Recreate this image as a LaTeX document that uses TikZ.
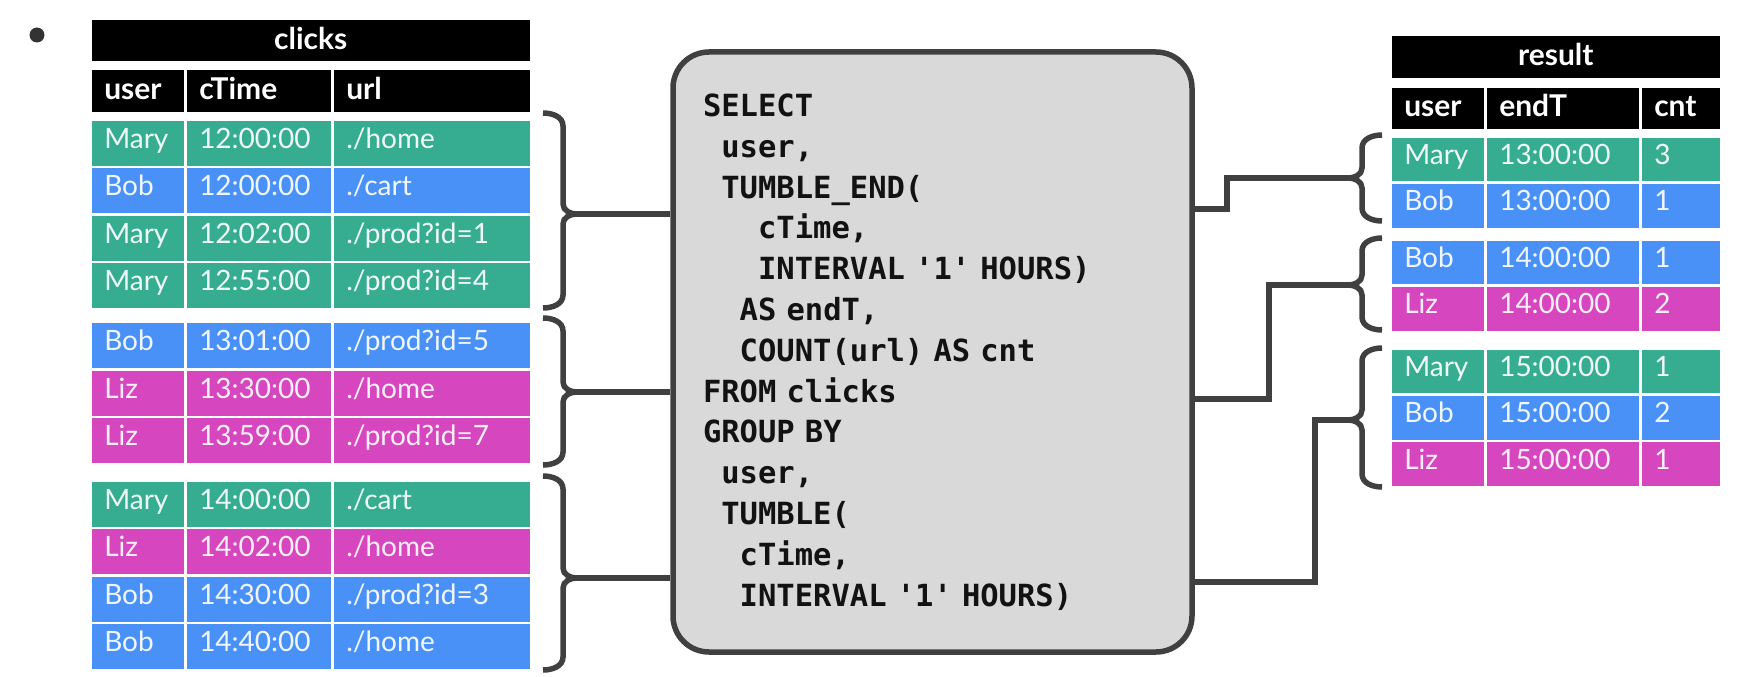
\documentclass[tikz,border=0pt]{standalone}
\usepackage{fontspec}
\setmainfont{Lato}
\setmonofont{DejaVu Sans Mono}
\definecolor{maryGreen}{HTML}{36AD91}
\definecolor{bobBlue}{HTML}{4A91F7}
\definecolor{lizPink}{HTML}{D647BF}
\definecolor{lineGray}{HTML}{404040}
\definecolor{boxGray}{HTML}{D9D9D9}
\usetikzlibrary{calc}

% brace opening to the right: x of the stem, top, tip, bottom
\newcommand{\grpbraceR}[4]{%
  \draw[brc] (#1-20,#2) to[out=0,in=90] (#1,#2+13) -- (#1,#3-10)
    to[out=-90,in=180] (#1+14,#3) to[out=180,in=90] (#1,#3+10)
    -- (#1,#4-13) to[out=-90,in=0] (#1-20,#4);}
% brace opening to the left
\newcommand{\grpbraceL}[4]{%
  \draw[brc] (#1+20,#2) to[out=180,in=90] (#1,#2+13) -- (#1,#3-10)
    to[out=-90,in=0] (#1-14,#3) to[out=0,in=90] (#1,#3+10)
    -- (#1,#4-13) to[out=-90,in=180] (#1+20,#4);}

\begin{document}
\begin{tikzpicture}[
    x=1pt, y=-1pt,
    cell/.style={anchor=north west, draw=white, line width=2.5pt, inner xsep=14pt, inner ysep=0pt, align=left, text=white, text opacity=0.92, text height=18pt, text depth=8pt, font=\fontsize{28}{32}\selectfont},
    head/.style={cell, fill=black, text opacity=1, minimum height=43.5pt, text height=21pt, text depth=4pt, font=\bfseries\fontsize{30}{34}\selectfont},
    colA/.style={minimum width=95pt, text width=67pt},
    colB/.style={minimum width=147pt, text width=119pt},
    colC/.style={minimum width=199pt, text width=171pt},
    colE/.style={minimum width=155pt, text width=127pt},
    colN/.style={minimum width=81pt, text width=53pt},
    lrow/.style={minimum height=47.5pt},
    rrow/.style={minimum height=46.3pt},
    brc/.style={draw=lineGray, line width=5.5pt},
    link/.style={draw=lineGray, line width=5.5pt}
  ]
  \useasboundingbox (0,0) rectangle (1737,677);

  \node[circle, fill=black!80, minimum size=15pt, inner sep=0pt] (dot) at (37,35) {};

  % clicks table
  \node[head, minimum width=441pt, text width=413pt, align=center] (clicks) at (89,18) {clicks};
  \node[head, colA] (lh-a) at (89,68) {user};
  \node[head, colB] (lh-b) at (184,68) {cTime};
  \node[head, colC] (lh-c) at (331,68) {url};
  \foreach \i/\yy/\col/\nm/\tm/\pg in {
      1/118/maryGreen/Mary/12:00:00/{./home},
      2/165.5/bobBlue/Bob/12:00:00/{./cart},
      3/213/maryGreen/Mary/12:02:00/{./prod?id=1},
      4/260.5/maryGreen/Mary/12:55:00/{./prod?id=4},
      5/320.5/bobBlue/Bob/13:01:00/{./prod?id=5},
      6/368/lizPink/Liz/13:30:00/{./home},
      7/415.5/lizPink/Liz/13:59:00/{./prod?id=7},
      8/479/maryGreen/Mary/14:00:00/{./cart},
      9/526.5/lizPink/Liz/14:02:00/{./home},
      10/574/bobBlue/Bob/14:30:00/{./prod?id=3},
      11/621.5/bobBlue/Bob/14:40:00/{./home}} {
    \node[cell, lrow, colA, fill=\col] (l\i-a) at (89,\yy) {\nm};
    \node[cell, lrow, colB, fill=\col] (l\i-b) at (184,\yy) {\tm};
    \node[cell, lrow, colC, fill=\col] (l\i-c) at (331,\yy) {\pg};
  }

  % result table
  \node[head, minimum width=331pt, text width=303pt, align=center] (result) at (1389,34) {result};
  \node[head, colA] (rh-a) at (1389,85) {user};
  \node[head, colE] (rh-b) at (1484,85) {endT};
  \node[head, colN] (rh-c) at (1639,85) {cnt};
  \foreach \i/\yy/\col/\nm/\tm/\cn in {
      1/135/maryGreen/Mary/13:00:00/3,
      2/181.3/bobBlue/Bob/13:00:00/1,
      3/238/bobBlue/Bob/14:00:00/1,
      4/284.3/lizPink/Liz/14:00:00/2,
      5/347/maryGreen/Mary/15:00:00/1,
      6/393.3/bobBlue/Bob/15:00:00/2,
      7/439.6/lizPink/Liz/15:00:00/1} {
    \node[cell, rrow, colA, fill=\col] (r\i-a) at (1389,\yy) {\nm};
    \node[cell, rrow, colE, fill=\col] (r\i-b) at (1484,\yy) {\tm};
    \node[cell, rrow, colN, fill=\col] (r\i-c) at (1639,\yy) {\cn};
  }

  % query
  \node[draw=lineGray, fill=boxGray, line width=5.5pt, rounded corners=36pt,
        minimum width=519pt, minimum height=600pt, inner xsep=30pt, text width=459pt,
        align=left, text=black!93, font=\ttfamily\bfseries\fontsize{30.5}{40.8}\selectfont] (sql) at (932.5,352) {%
    SELECT\\
    \phantom{X}user,\\
    \phantom{X}TUMBLE\_END(\\
    \phantom{XXX}cTime,\\
    \phantom{XXX}INTERVAL '1' HOURS)\\
    \phantom{XX}AS endT,\\
    \phantom{XX}COUNT(url) AS cnt\\
    FROM clicks\\
    GROUP BY\\
    \phantom{X}user,\\
    \phantom{X}TUMBLE(\\
    \phantom{XX}cTime,\\
    \phantom{XX}INTERVAL '1' HOURS)};

  % braces
  \grpbraceR{563}{113}{214}{308}
  \grpbraceR{563}{318}{392}{465}
  \grpbraceR{563}{476}{578}{670}
  \grpbraceL{1362}{135}{178}{221}
  \grpbraceL{1362}{238}{285}{330}
  \grpbraceL{1362}{348}{420}{487}

  \coordinate (ltip1) at (577,214);
  \coordinate (ltip2) at (577,392);
  \coordinate (ltip3) at (577,578);
  \coordinate (rtip1) at (1348,178);
  \coordinate (rtip2) at (1348,285);
  \coordinate (rtip3) at (1348,420);
  \coordinate (rbend1) at (1227,209);
  \coordinate (rbend2) at (1269,399);
  \coordinate (rbend3) at (1315,582);

  \draw[link] (ltip1) -- (ltip1 -| sql.west);
  \draw[link] (ltip2) -- (ltip2 -| sql.west);
  \draw[link] (ltip3) -- (ltip3 -| sql.west);
  \draw[link] (rtip1) -| (rbend1) -- (rbend1 -| sql.east);
  \draw[link] (rtip2) -| (rbend2) -- (rbend2 -| sql.east);
  \draw[link] (rtip3) -| (rbend3) -- (rbend3 -| sql.east);
\end{tikzpicture}
\end{document}
